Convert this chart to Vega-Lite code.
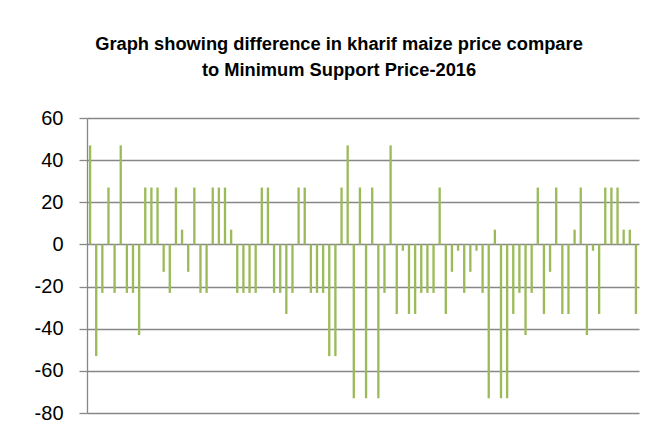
{
  "$schema": "https://vega.github.io/schema/vega-lite/v6.json",
  "width": 552,
  "height": 295,
  "autosize": "none",
  "padding": {"left": 87, "top": 118, "right": 24, "bottom": 21},
  "background": "white",
  "title": {
    "text": ["Graph showing difference in kharif maize price compare", "to Minimum Support Price-2016"],
    "font": "Liberation Sans",
    "fontSize": 18.3,
    "fontWeight": "bold",
    "color": "#000000",
    "lineHeight": 26,
    "anchor": "middle",
    "dx": -24,
    "offset": 28
  },
  "data": {
    "values": [
      {"i": 1, "v": 47}, {"i": 2, "v": -53}, {"i": 3, "v": -23}, {"i": 4, "v": 27}, {"i": 5, "v": -23},
      {"i": 6, "v": 47}, {"i": 7, "v": -23}, {"i": 8, "v": -23}, {"i": 9, "v": -43}, {"i": 10, "v": 27},
      {"i": 11, "v": 27}, {"i": 12, "v": 27}, {"i": 13, "v": -13}, {"i": 14, "v": -23}, {"i": 15, "v": 27},
      {"i": 16, "v": 7}, {"i": 17, "v": -13}, {"i": 18, "v": 27}, {"i": 19, "v": -23}, {"i": 20, "v": -23},
      {"i": 21, "v": 27}, {"i": 22, "v": 27}, {"i": 23, "v": 27}, {"i": 24, "v": 7}, {"i": 25, "v": -23},
      {"i": 26, "v": -23}, {"i": 27, "v": -23}, {"i": 28, "v": -23}, {"i": 29, "v": 27}, {"i": 30, "v": 27},
      {"i": 31, "v": -23}, {"i": 32, "v": -23}, {"i": 33, "v": -33}, {"i": 34, "v": -23}, {"i": 35, "v": 27},
      {"i": 36, "v": 27}, {"i": 37, "v": -23}, {"i": 38, "v": -23}, {"i": 39, "v": -23}, {"i": 40, "v": -53},
      {"i": 41, "v": -53}, {"i": 42, "v": 27}, {"i": 43, "v": 47}, {"i": 44, "v": -73}, {"i": 45, "v": 27},
      {"i": 46, "v": -73}, {"i": 47, "v": 27}, {"i": 48, "v": -73}, {"i": 49, "v": -23}, {"i": 50, "v": 47},
      {"i": 51, "v": -33}, {"i": 52, "v": -3}, {"i": 53, "v": -33}, {"i": 54, "v": -33}, {"i": 55, "v": -23},
      {"i": 56, "v": -23}, {"i": 57, "v": -23}, {"i": 58, "v": 27}, {"i": 59, "v": -33}, {"i": 60, "v": -13},
      {"i": 61, "v": -3}, {"i": 62, "v": -23}, {"i": 63, "v": -13}, {"i": 64, "v": -3}, {"i": 65, "v": -23},
      {"i": 66, "v": -73}, {"i": 67, "v": 7}, {"i": 68, "v": -73}, {"i": 69, "v": -73}, {"i": 70, "v": -33},
      {"i": 71, "v": -23}, {"i": 72, "v": -43}, {"i": 73, "v": -23}, {"i": 74, "v": 27}, {"i": 75, "v": -33},
      {"i": 76, "v": -13}, {"i": 77, "v": 27}, {"i": 78, "v": -33}, {"i": 79, "v": -33}, {"i": 80, "v": 7},
      {"i": 81, "v": 27}, {"i": 82, "v": -43}, {"i": 83, "v": -3}, {"i": 84, "v": -33}, {"i": 85, "v": 27},
      {"i": 86, "v": 27}, {"i": 87, "v": 27}, {"i": 88, "v": 7}, {"i": 89, "v": 7}, {"i": 90, "v": -33}
    ]
  },
  "mark": {"type": "bar", "color": "#9BBB59", "width": {"band": 0.38}},
  "encoding": {
    "x": {
      "field": "i",
      "type": "ordinal",
      "sort": null,
      "scale": {"paddingInner": 0, "paddingOuter": 0},
      "axis": null
    },
    "y": {
      "field": "v",
      "type": "quantitative",
      "scale": {"domain": [-80, 60], "nice": false, "zero": false},
      "axis": {
        "title": null,
        "values": [-80, -60, -40, -20, 0, 20, 40, 60],
        "labelExpr": "toString(datum.value)",
        "grid": true,
        "gridColor": "#878787",
        "gridWidth": 1.3,
        "domainColor": "#878787",
        "domainWidth": 1.3,
        "tickColor": "#878787",
        "tickWidth": 1.3,
        "tickSize": 8,
        "labelPadding": 16,
        "labelFont": "Liberation Sans",
        "labelFontSize": 20,
        "labelColor": "#000000"
      }
    }
  },
  "config": {"view": {"stroke": null}}
}
